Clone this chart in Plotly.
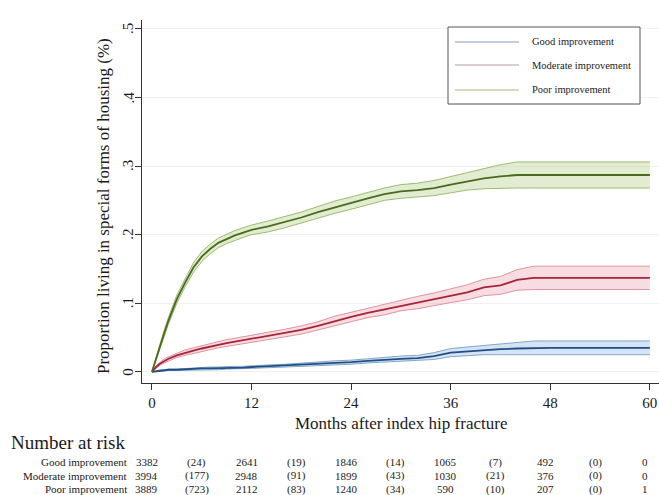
import plotly.graph_objects as go

# ---- cumulative incidence estimates (proportion) by month after fracture ----
months = [0, 0.5, 1, 1.5, 2, 3, 4, 5, 6, 7, 8, 9, 10, 11, 12, 14, 16, 18, 20, 22,
          24, 26, 28, 30, 32, 34, 36, 38, 40, 42, 44, 46, 48, 50, 52, 54, 56, 58, 60]

good = [0, 0.001, 0.002, 0.002, 0.003, 0.003, 0.004, 0.004, 0.005, 0.005, 0.005,
        0.006, 0.006, 0.006, 0.007, 0.008, 0.009, 0.010, 0.011, 0.013, 0.014, 0.016,
        0.018, 0.019, 0.020, 0.023, 0.028, 0.030, 0.032, 0.033, 0.034, 0.035, 0.035,
        0.035, 0.035, 0.035, 0.035, 0.035, 0.035]
moderate = [0, 0.007, 0.012, 0.016, 0.019, 0.024, 0.028, 0.031, 0.034, 0.037, 0.040,
            0.042, 0.044, 0.046, 0.048, 0.052, 0.056, 0.061, 0.067, 0.074, 0.080,
            0.086, 0.091, 0.097, 0.101, 0.106, 0.111, 0.116, 0.123, 0.126, 0.134,
            0.137, 0.137, 0.137, 0.137, 0.137, 0.137, 0.137, 0.137]
poor = [0, 0.020, 0.038, 0.057, 0.075, 0.106, 0.130, 0.152, 0.168, 0.179, 0.188,
        0.194, 0.199, 0.203, 0.207, 0.212, 0.218, 0.225, 0.233, 0.240, 0.246, 0.253,
        0.259, 0.263, 0.265, 0.268, 0.273, 0.278, 0.282, 0.285, 0.287, 0.287, 0.287,
        0.287, 0.287, 0.287, 0.287, 0.287, 0.287]

# half-widths of the 95% confidence bands
good_ci = [0, 0.001, 0.001, 0.001, 0.001, 0.001, 0.001, 0.002, 0.002, 0.002, 0.002,
           0.002, 0.002, 0.002, 0.002, 0.002, 0.002, 0.003, 0.003, 0.003, 0.003, 0.003,
           0.004, 0.004, 0.004, 0.005, 0.006, 0.006, 0.007, 0.008, 0.009, 0.010, 0.010,
           0.010, 0.010, 0.010, 0.010, 0.010, 0.010]
moderate_ci = [0, 0.002, 0.002, 0.003, 0.003, 0.003, 0.004, 0.004, 0.004, 0.005, 0.005,
               0.005, 0.005, 0.005, 0.005, 0.005, 0.006, 0.006, 0.006, 0.007, 0.007,
               0.007, 0.008, 0.008, 0.009, 0.009, 0.010, 0.011, 0.012, 0.013, 0.015,
               0.017, 0.017, 0.017, 0.017, 0.017, 0.017, 0.017, 0.017]
poor_ci = [0, 0.003, 0.004, 0.005, 0.005, 0.006, 0.006, 0.007, 0.007, 0.007, 0.007,
           0.007, 0.007, 0.007, 0.007, 0.008, 0.008, 0.008, 0.008, 0.009, 0.009, 0.009,
           0.009, 0.010, 0.010, 0.011, 0.012, 0.013, 0.015, 0.017, 0.019, 0.019, 0.019,
           0.019, 0.019, 0.019, 0.019, 0.019, 0.019]

series_names = ["Good improvement", "Moderate improvement", "Poor improvement"]

# ---- number at risk table (censored counts in brackets) ----
risk_months = [0, 6, 12, 18, 24, 30, 36, 42, 48, 54, 60]
risk_good = ["3382", "(24)", "2641", "(19)", "1846", "(14)", "1065", "(7)", "492", "(0)", "0"]
risk_moderate = ["3994", "(177)", "2948", "(91)", "1899", "(43)", "1030", "(21)", "376", "(0)", "0"]
risk_poor = ["3889", "(723)", "2112", "(83)", "1240", "(34)", "590", "(10)", "207", "(0)", "1"]

x_ticks = [0, 12, 24, 36, 48, 60]
y_ticks = [0, 0.1, 0.2, 0.3, 0.4, 0.5]
y_ticktext = ["0", ".1", ".2", ".3", ".4", ".5"]

# ---- styling ----
W, H = 659, 495
ML, MR, MT, MB = 142, 0, 20, 112
FONT = "Liberation Serif"
styles = [
    dict(line="#1f4f86", edge="#86a6c8", fill="rgba(160,195,230,0.45)", legend="#8c9cc4"),
    dict(line="#a8243a", edge="#dc95a0", fill="rgba(235,170,180,0.40)", legend="#b89ea2"),
    dict(line="#4a6a1c", edge="#9cbb72", fill="rgba(175,205,135,0.38)", legend="#a3bd7c"),
]


def px(xp):
    return (xp - ML) / (W - ML - MR)


def py(yp):
    return (H - MB - yp) / (H - MT - MB)


def label(text, xp, yp, size, xanchor="center", **kw):
    return dict(text=text, x=px(xp), y=py(yp), xref="paper", yref="paper",
                xanchor=xanchor, yanchor="middle", showarrow=False,
                font=dict(family=FONT, size=size, color="#1a1a1a"), **kw)


fig = go.Figure()

for est, ci, st, name in zip([good, moderate, poor], [good_ci, moderate_ci, poor_ci],
                             styles, series_names):
    upper = [v + h for v, h in zip(est, ci)]
    lower = [v - h for v, h in zip(est, ci)]
    fig.add_trace(go.Scatter(x=months, y=upper, mode="lines",
                             line=dict(color=st["edge"], width=1), showlegend=False,
                             hoverinfo="skip"))
    fig.add_trace(go.Scatter(x=months, y=lower, mode="lines", fill="tonexty",
                             fillcolor=st["fill"],
                             line=dict(color=st["edge"], width=1), showlegend=False,
                             hoverinfo="skip"))
    fig.add_trace(go.Scatter(x=months, y=est, mode="lines", name=name,
                             line=dict(color=st["line"], width=1.8), showlegend=False))

annotations = []
shapes = []

# vertical y tick labels, set just left of the tick marks
for v, t in zip(y_ticks, y_ticktext):
    annotations.append(dict(text=t, x=px(128), y=v, xref="paper", yref="y",
                            xanchor="center", yanchor="middle", textangle=-90,
                            showarrow=False,
                            font=dict(family=FONT, size=15, color="#1a1a1a")))

# axis titles
annotations.append(label("Months after index hip fracture", 401, 423, 17))
annotations.append(label("Proportion living in special forms of housing (%)", 103, 206, 17,
                         textangle=-90))

# legend box drawn in the upper-right corner
shapes.append(dict(type="rect", xref="paper", yref="paper", x0=px(448), x1=px(640),
                   y0=py(104), y1=py(27), line=dict(color="#555555", width=1),
                   fillcolor="white", layer="above"))
for st, name, ly in zip(styles, series_names, [42, 65, 90]):
    shapes.append(dict(type="line", xref="paper", yref="paper", x0=px(455), x1=px(519),
                       y0=py(ly), y1=py(ly), line=dict(color=st["legend"], width=1.2),
                       layer="above"))
    annotations.append(label(name, 530, ly, 10.5, xanchor="left"))

# number at risk table
annotations.append(label("Number at risk", 9, 443, 19, xanchor="left"))
for name, row, ry in zip(series_names, [risk_good, risk_moderate, risk_poor], [462, 475.5, 489]):
    annotations.append(label(name, 129, ry, 11, xanchor="right"))
    for m, txt in zip(risk_months, row):
        annotations.append(dict(text=txt, x=m, y=py(ry), xref="x", yref="paper",
                                xanchor="center", yanchor="middle", xshift=-5,
                                showarrow=False,
                                font=dict(family=FONT, size=11, color="#222222")))

fig.update_layout(
    width=W, height=H,
    margin=dict(l=ML, r=MR, t=MT, b=MB),
    paper_bgcolor="white", plot_bgcolor="white",
    showlegend=False,
    annotations=annotations, shapes=shapes,
    xaxis=dict(range=[-1.2, 61.1], tickvals=x_ticks, ticks="outside", ticklen=6,
               tickcolor="#333333", showline=True, linecolor="#333333", linewidth=1.2,
               showgrid=False, zeroline=False,
               tickfont=dict(family=FONT, size=15, color="#1a1a1a")),
    yaxis=dict(range=[-0.0163, 0.513], tickvals=y_ticks, showticklabels=False,
               ticks="outside", ticklen=6, tickcolor="#333333",
               showline=True, linecolor="#333333", linewidth=1.2,
               showgrid=True, gridcolor="#f1f1f1", gridwidth=1, zeroline=False),
)

fig.write_html("out.html")
